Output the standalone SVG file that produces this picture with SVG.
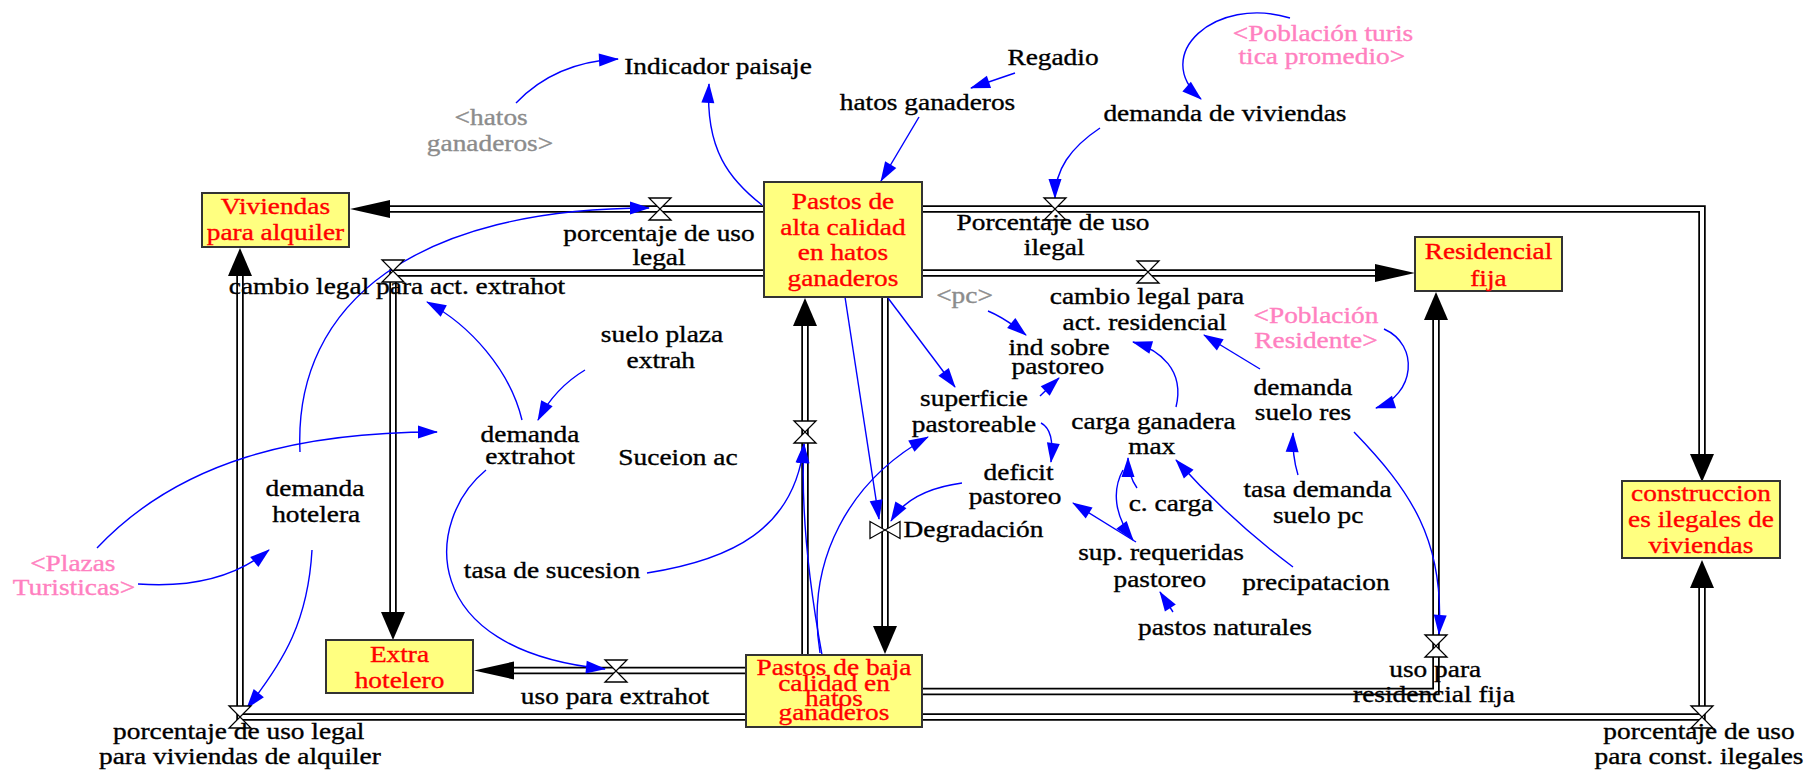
<svg xmlns="http://www.w3.org/2000/svg" width="1820" height="772" viewBox="0 0 1820 772">
<defs>
<style>
  .t { font-family: "Liberation Serif", "Times New Roman", serif; font-size: 23px; text-anchor: middle;
       fill: #000; stroke: #000; stroke-width: 0.35;
       transform-box: fill-box; transform-origin: center; transform: scaleX(1.19); }
  .red { fill: #ff0000; stroke: #ff0000; }
  .pink { fill: #ff80c0; stroke: #ff80c0; }
  .grey { fill: #8c8c8c; stroke: #8c8c8c; }
  .stock { fill: #ffff80; stroke: #333; stroke-width: 2; }
  .pipe { fill: none; stroke: #000; stroke-width: 7.5; stroke-linejoin: miter; }
  .pipe-in { fill: none; stroke: #fff; stroke-width: 4; stroke-linejoin: miter; }
  .valve { fill: #fff; stroke: #000; stroke-width: 1.3; }
  .link { fill: none; stroke: #0000ff; stroke-width: 1.4; marker-end: url(#linkHead); }
</style>
<marker id="flowH" markerUnits="userSpaceOnUse" markerWidth="41" markerHeight="18" refX="0" refY="9" orient="auto" overflow="visible">
  <path d="M0,0 L40,9 L0,18 Z" fill="#000"/>
</marker>
<marker id="flowV" markerUnits="userSpaceOnUse" markerWidth="29" markerHeight="24" refX="0" refY="12" orient="auto" overflow="visible">
  <path d="M0,0 L28,12 L0,24 Z" fill="#000"/>
</marker>
<marker id="linkHead" markerUnits="userSpaceOnUse" markerWidth="20" markerHeight="13" refX="19" refY="6.5" orient="auto" overflow="visible">
  <path d="M0,0 L20,6.5 L0,13 Z" fill="#0000ff"/>
</marker>
<path id="valve" class="valve" d="M-11,-11 H11 L-11,11 H11 Z"/>
<path id="valveSide" class="valve" d="M-15,-8.5 V8.5 L15,-8.5 V8.5 Z"/>
</defs>

<rect width="1820" height="772" fill="#fff"/>

<!-- flows (pipes) and causal links -->
<g id="connectors">
  <g id="pipes">
    <path class="pipe" d="M770,209 H390" marker-end="url(#flowH)"/>
    <path class="pipe-in" d="M770,209 H390"/>
    <path class="pipe" d="M770,273 H393 V612" marker-end="url(#flowV)"/>
    <path class="pipe-in" d="M770,273 H393 V612"/>
    <path class="pipe" d="M916,209 H1702 V454" marker-end="url(#flowV)"/>
    <path class="pipe-in" d="M916,209 H1702 V454"/>
    <path class="pipe" d="M916,273 H1375" marker-end="url(#flowH)"/>
    <path class="pipe-in" d="M916,273 H1375"/>
    <path class="pipe" d="M752,670.5 H514" marker-end="url(#flowH)"/>
    <path class="pipe-in" d="M752,670.5 H514"/>
    <path class="pipe" d="M752,717 H240 V276" marker-end="url(#flowV)"/>
    <path class="pipe-in" d="M752,717 H240 V276"/>
    <path class="pipe" d="M916,717 H1702 V588" marker-end="url(#flowV)"/>
    <path class="pipe-in" d="M916,717 H1702 V588"/>
    <path class="pipe" d="M916,691.5 H1436 V320" marker-end="url(#flowV)"/>
    <path class="pipe-in" d="M916,691.5 H1436 V320"/>
    <path class="pipe" d="M805,660 V326" marker-end="url(#flowV)"/>
    <path class="pipe-in" d="M805,660 V326"/>
    <path class="pipe" d="M885,292 V626" marker-end="url(#flowV)"/>
    <path class="pipe-in" d="M885,292 V626"/>
  </g>
  <g id="links">
    <path class="link" d="M516,103 Q555,62 618,59"/>
    <path class="link" d="M762,205 C730,180 705,150 709,84"/>
    <path class="link" d="M1015,73 L971,88"/>
    <path class="link" d="M919,117 L881,181"/>
    <path class="link" d="M1290,18 C1215,-5 1150,55 1201,99"/>
    <path class="link" d="M1100,128 C1070,148 1055,170 1055,198"/>
    <path class="link" d="M300,452 C293,300 420,208 649,208"/>
    <path class="link" d="M97,548 C180,460 300,432 437,432"/>
    <path class="link" d="M138,584 Q220,590 269,550"/>
    <path class="link" d="M312,550 C308,620 285,660 247,708"/>
    <path class="link" d="M585,370 Q555,388 538,420"/>
    <path class="link" d="M522,420 C510,370 470,325 427,302"/>
    <path class="link" d="M486,470 C425,520 415,650 605,669"/>
    <path class="link" d="M647,573 C730,560 795,530 804,444"/>
    <path class="link" d="M822,655 C812,600 800,520 804,444"/>
    <path class="link" d="M845,297 L879,519"/>
    <path class="link" d="M888,298 L955,387"/>
    <path class="link" d="M820,653 C805,560 850,480 928,437"/>
    <path class="link" d="M962,483 Q910,490 891,521"/>
    <path class="link" d="M1041,423 Q1055,430 1051,462"/>
    <path class="link" d="M1040,396 L1059,378"/>
    <path class="link" d="M988,311 Q1005,318 1026,335"/>
    <path class="link" d="M1176,407 C1185,370 1160,350 1133,342"/>
    <path class="link" d="M1260,369 L1204,335"/>
    <path class="link" d="M1384,329 C1420,345 1415,395 1376,408"/>
    <path class="link" d="M1354,432 C1410,490 1445,540 1439,634"/>
    <path class="link" d="M1298,475 Q1292,455 1293,433"/>
    <path class="link" d="M1137,488 Q1128,475 1128,458"/>
    <path class="link" d="M1123,470 C1112,490 1114,515 1133,540"/>
    <path class="link" d="M1136,542 L1073,503"/>
    <path class="link" d="M1293,567 Q1230,520 1176,460"/>
    <path class="link" d="M1173,612 L1160,592"/>
  </g>
</g>

<!-- stocks -->
<g id="viviendas_alquiler">
  <rect class="stock" x="202" y="193" width="147" height="54"/>
  <text class="t red"><tspan x="275.5" y="214">Viviendas</tspan><tspan x="275.5" y="240">para alquiler</tspan></text>
</g>
<g id="pastos_alta">
  <rect class="stock" x="764" y="182" width="158" height="115"/>
  <text class="t red"><tspan x="843" y="209">Pastos de</tspan><tspan x="843" y="235">alta calidad</tspan><tspan x="843" y="260.5">en hatos</tspan><tspan x="843" y="286.5">ganaderos</tspan></text>
</g>
<g id="residencial_fija">
  <rect class="stock" x="1415" y="237" width="147" height="54"/>
  <text class="t red"><tspan x="1488.5" y="259.5">Residencial</tspan><tspan x="1488.5" y="285.5">fija</tspan></text>
</g>
<g id="construcciones_ilegales">
  <rect class="stock" x="1622" y="481" width="158" height="77"/>
  <text class="t red"><tspan x="1701" y="501.5">construccion</tspan><tspan x="1701" y="527.5">es ilegales de</tspan><tspan x="1701" y="553.5">viviendas</tspan></text>
</g>
<g id="extra_hotelero">
  <rect class="stock" x="326" y="640" width="147" height="53"/>
  <text class="t red"><tspan x="399.5" y="662.5">Extra</tspan><tspan x="399.5" y="688">hotelero</tspan></text>
</g>
<g id="pastos_baja">
  <rect class="stock" x="746" y="655" width="176" height="72"/>
  <text class="t red"><tspan x="834" y="675.5">Pastos de baja</tspan><tspan x="834" y="691">calidad en</tspan><tspan x="834" y="706">hatos</tspan><tspan x="834" y="720.5">ganaderos</tspan></text>
</g>

<!-- flow rates: valves and their names -->
<g id="porcentaje_uso_legal">
  <use href="#valve" x="660" y="209"/>
  <text class="t"><tspan x="659" y="241.5">porcentaje de uso</tspan><tspan x="659" y="265.5">legal</tspan></text>
</g>
<g id="cambio_legal_extrahot">
  <use href="#valve" x="393" y="271"/>
  <text class="t" x="397" y="294.5">cambio legal para act. extrahot</text>
</g>
<g id="porcentaje_uso_ilegal">
  <use href="#valve" x="1055" y="209"/>
  <text class="t"><tspan x="1053" y="230.5">Porcentaje de uso</tspan><tspan x="1054" y="255.5">ilegal</tspan></text>
</g>
<g id="cambio_legal_residencial">
  <use href="#valve" x="1148" y="272"/>
  <text class="t"><tspan x="1147" y="304.5">cambio legal para</tspan><tspan x="1145" y="330.5">act. residencial</tspan></text>
</g>
<g id="uso_extrahot">
  <use href="#valve" x="616" y="671"/>
  <text class="t" x="615" y="704.5">uso para extrahot</text>
</g>
<g id="porcentaje_legal_viviendas">
  <use href="#valve" x="240" y="717"/>
  <text class="t"><tspan x="239" y="739.5">porcentaje de uso legal</tspan><tspan x="240" y="764.5">para viviendas de alquiler</tspan></text>
</g>
<g id="porcentaje_const_ilegales">
  <use href="#valve" x="1702" y="717"/>
  <text class="t"><tspan x="1699" y="739.5">porcentaje de uso</tspan><tspan x="1699" y="764.5">para const. ilegales</tspan></text>
</g>
<g id="uso_residencial_fija">
  <use href="#valve" x="1436" y="646"/>
  <text class="t"><tspan x="1435" y="677.5">uso para</tspan><tspan x="1434" y="702.5">residencial fija</tspan></text>
</g>
<g id="suceion_ac">
  <use href="#valve" x="805" y="432"/>
  <text class="t" x="678" y="465.5">Suceion ac</text>
</g>
<g id="degradacion">
  <use href="#valveSide" x="885" y="530"/>
  <text class="t" x="973.5" y="537.5">Degradación</text>
</g>

<!-- auxiliary variables -->
<g id="indicador_paisaje"><text class="t" x="718" y="74">Indicador paisaje</text></g>
<g id="hatos_ganaderos_ref"><text class="t grey"><tspan x="491" y="125">&lt;hatos</tspan><tspan x="490" y="151">ganaderos&gt;</tspan></text></g>
<g id="regadio"><text class="t" x="1053" y="65">Regadio</text></g>
<g id="hatos_ganaderos"><text class="t" x="927.5" y="110">hatos ganaderos</text></g>
<g id="poblacion_turistica"><text class="t pink"><tspan x="1323" y="41">&lt;Población turis</tspan><tspan x="1322" y="64">tica promedio&gt;</tspan></text></g>
<g id="demanda_viviendas"><text class="t" x="1225" y="121">demanda de viviendas</text></g>
<g id="suelo_plaza_extrah"><text class="t"><tspan x="662" y="342.5">suelo plaza</tspan><tspan x="661" y="368.5">extrah</tspan></text></g>
<g id="demanda_extrahot"><text class="t"><tspan x="530" y="442.5">demanda</tspan><tspan x="530" y="464.5">extrahot</tspan></text></g>
<g id="demanda_hotelera"><text class="t"><tspan x="315" y="496.5">demanda</tspan><tspan x="316" y="522.5">hotelera</tspan></text></g>
<g id="plazas_turisticas"><text class="t pink"><tspan x="73" y="571.5">&lt;Plazas</tspan><tspan x="74" y="595.5">Turisticas&gt;</tspan></text></g>
<g id="tasa_sucesion"><text class="t" x="552" y="578.5">tasa de sucesion</text></g>
<g id="pc"><text class="t grey" x="964.5" y="303.5">&lt;pc&gt;</text></g>
<g id="ind_sobre_pastoreo"><text class="t"><tspan x="1059" y="355.5">ind sobre</tspan><tspan x="1058" y="374.5">pastoreo</tspan></text></g>
<g id="superficie_pastoreable"><text class="t"><tspan x="974" y="406.5">superficie</tspan><tspan x="974" y="432.5">pastoreable</tspan></text></g>
<g id="carga_ganadera_max"><text class="t"><tspan x="1153.5" y="429.5">carga ganadera</tspan><tspan x="1152" y="454.5">max</tspan></text></g>
<g id="deficit_pastoreo"><text class="t"><tspan x="1018" y="480.5">deficit</tspan><tspan x="1015" y="504.5">pastoreo</tspan></text></g>
<g id="c_carga"><text class="t" x="1171" y="511.5">c. carga</text></g>
<g id="sup_requeridas"><text class="t"><tspan x="1161" y="560.5">sup. requeridas</tspan><tspan x="1160" y="587.5">pastoreo</tspan></text></g>
<g id="precipatacion"><text class="t" x="1316" y="590.5">precipatacion</text></g>
<g id="pastos_naturales"><text class="t" x="1225" y="635.5">pastos naturales</text></g>
<g id="poblacion_residente"><text class="t pink"><tspan x="1316" y="323.5">&lt;Población</tspan><tspan x="1316" y="348.5">Residente&gt;</tspan></text></g>
<g id="demanda_suelo_res"><text class="t"><tspan x="1303" y="395.5">demanda</tspan><tspan x="1303" y="420.5">suelo res</tspan></text></g>
<g id="tasa_demanda_suelo_pc"><text class="t"><tspan x="1317.5" y="497.5">tasa demanda</tspan><tspan x="1318" y="523.5">suelo pc</tspan></text></g>
</svg>
